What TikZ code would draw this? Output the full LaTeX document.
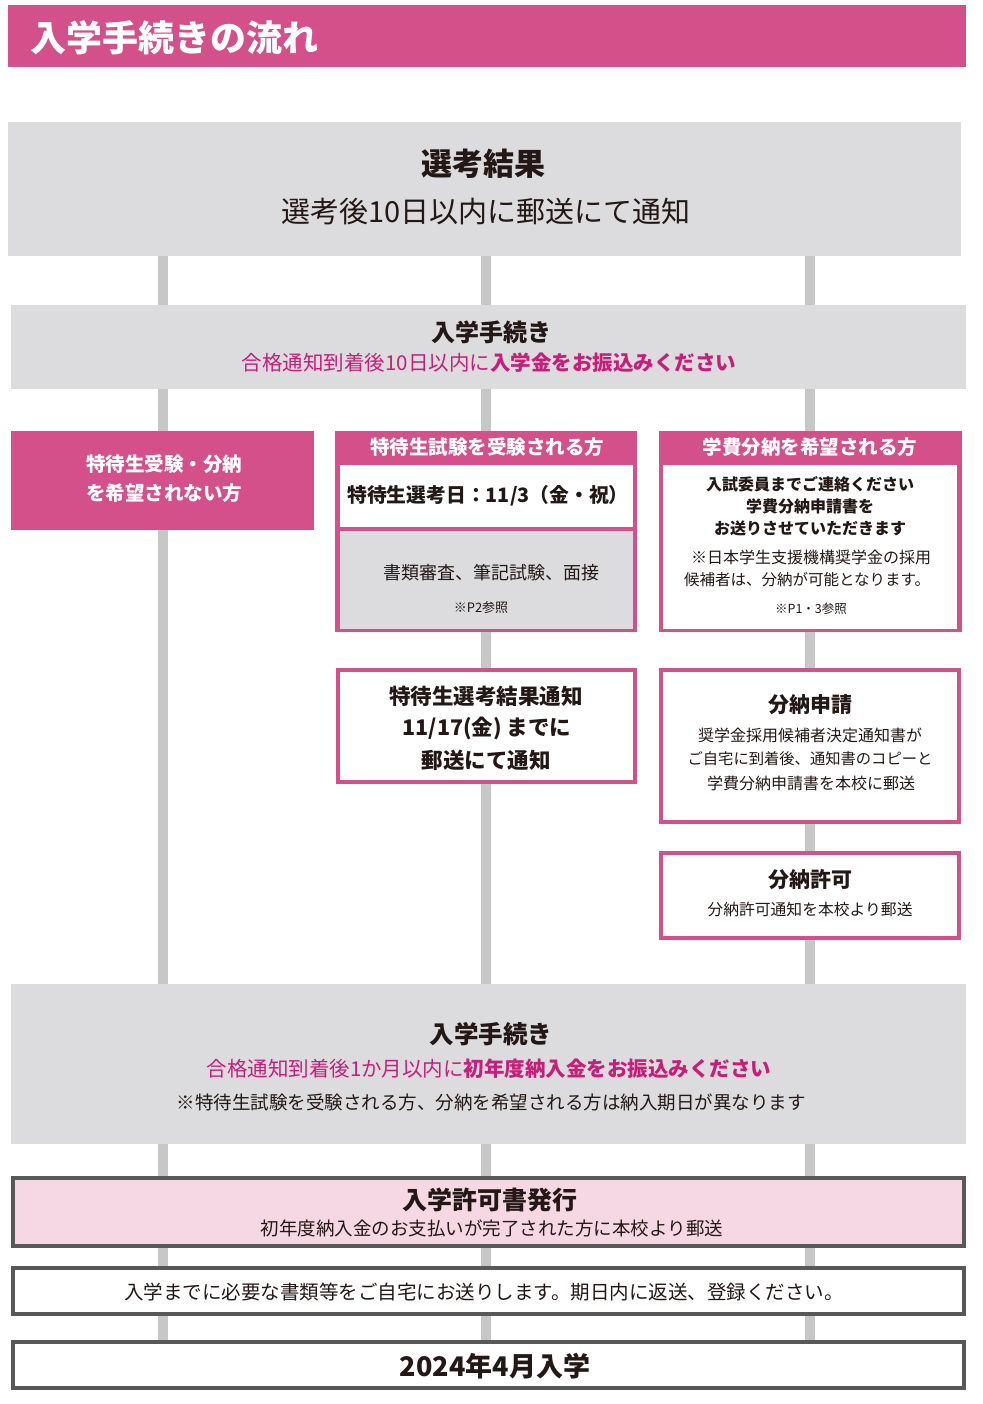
\documentclass[tikz,border=0pt]{standalone}
\usepackage{fontspec}
\setmainfont{Noto Sans CJK JP}[BoldFont={Noto Sans CJK JP Black}]
\newcommand\myfs[1]{\fontsize{#1}{#1}\selectfont}
\definecolor{pinkmain}{RGB}{212,80,138}
\definecolor{grayfill}{RGB}{220,220,222}
\definecolor{linegray}{RGB}{199,199,199}
\definecolor{magtext}{RGB}{200,30,122}
\definecolor{lightpink}{RGB}{246,216,228}
\definecolor{darkborder}{RGB}{88,88,88}
\definecolor{ink}{RGB}{35,24,21}
\begin{document}
\begin{tikzpicture}[x=1pt,y=-1pt,
  txt/.style={inner sep=0pt, anchor=center, text=ink},
  wtxt/.style={inner sep=0pt, anchor=center, text=white},
  area/.style={inner sep=0pt, anchor=north west, draw=none},
  vline/.style={draw=linegray, line width=10pt}]
\useasboundingbox (0,0) rectangle (982,1404);
\fill[white] (0,0) rectangle (982,1404);

% header
\node[area, fill=pinkmain, minimum width=958pt, minimum height=62pt] (hdr) at (8,5) {};
\node[wtxt, anchor=west] (title) at (30,38) {\myfs{36}\bfseries 入学手続きの流れ};

% vertical lines
\coordinate (la1) at (163,256); \coordinate (la2) at (163,1340);
\coordinate (lb1) at (486,256); \coordinate (lb2) at (486,1340);
\coordinate (lc1) at (810,256); \coordinate (lc2) at (810,1340);
\draw[vline] (la1) -- (la2);
\draw[vline] (lb1) -- (lb2);
\draw[vline] (lc1) -- (lc2);

% box 1
\node[area, fill=grayfill, minimum width=953pt, minimum height=134pt] (b1) at (8,122) {};
\node[txt] (b1t) at (483,164) {\myfs{31}\bfseries 選考結果};
\node[txt] (b1s) at (486,212) {\myfs{29}選考後10日以内に郵送にて通知};

% box 2
\node[area, fill=grayfill, minimum width=955pt, minimum height=84pt] (b2) at (11,305) {};
\node[txt] (b2t) at (491,332) {\myfs{24}\bfseries 入学手続き};
\node[txt, text=magtext] (b2s) at (489,363) {\myfs{20.5}合格通知到着後10日以内に\textbf{入学金をお振込みください}};

% left pink box
\node[area, fill=pinkmain, minimum width=303pt, minimum height=99pt] (lp) at (11,431) {};
\node[wtxt] (lp1) at (164,464) {\myfs{19.5}\bfseries 特待生受験・分納};
\node[wtxt] (lp2) at (164,493) {\myfs{19.5}\bfseries を希望されない方};

% middle group
\node[area, fill=pinkmain, minimum width=302pt, minimum height=201pt] (mg) at (335,431) {};
\node[area, fill=white, minimum width=293pt, minimum height=62pt] (mgw) at (340,465) {};
\node[area, fill=grayfill, minimum width=293pt, minimum height=98pt] (mgg) at (340,531) {};
\node[wtxt] (mgh) at (487,447) {\myfs{19.5}\bfseries 特待生試験を受験される方};
\node[txt] (mgd) at (488,496) {\myfs{19.8}\bfseries 特待生選考日：11/3（金・祝）};
\node[txt] (mgs1) at (491,573) {\myfs{18}書類審査、筆記試験、面接};
\node[txt] (mgs2) at (481,608) {\myfs{13}※P2参照};

% right group
\node[area, fill=pinkmain, minimum width=303pt, minimum height=201pt] (rg) at (659,431) {};
\node[area, fill=white, minimum width=294pt, minimum height=164pt] (rgw) at (663,465) {};
\node[wtxt] (rgh) at (810,447) {\myfs{19.5}\bfseries 学費分納を希望される方};
\node[txt] (rg1) at (810,484) {\myfs{16}\bfseries 入試委員までご連絡ください};
\node[txt] (rg2) at (810,506) {\myfs{16}\bfseries 学費分納申請書を};
\node[txt] (rg3) at (810,528) {\myfs{16}\bfseries お送りさせていただきます};
\node[txt] (rg4) at (811,557) {\myfs{16}※日本学生支援機構奨学金の採用};
\node[txt] (rg5) at (807,580) {\myfs{15.5}候補者は、分納が可能となります。};
\node[txt] (rg6) at (811,609) {\myfs{12.5}※P1・3参照};

% middle box 2
\draw[pinkmain, line width=4.5pt, fill=white] (338,670) rectangle (635,782);
\node[txt] (mb2a) at (486,696) {\myfs{21.5}\bfseries 特待生選考結果通知};
\node[txt] (mb2b) at (487,728) {\myfs{21.5}\bfseries 11/17(金) までに};
\node[txt] (mb2c) at (486,760) {\myfs{21.5}\bfseries 郵送にて通知};

% right box 2
\draw[pinkmain, line width=4.5pt, fill=white] (661,670) rectangle (959,822);
\node[txt] (rb2a) at (810,705) {\myfs{21}\bfseries 分納申請};
\node[txt] (rb2b) at (810,735) {\myfs{16}奨学金採用候補者決定通知書が};
\node[txt] (rb2c) at (810,759) {\myfs{15.3}ご自宅に到着後、通知書のコピーと};
\node[txt] (rb2d) at (811,783) {\myfs{16}学費分納申請書を本校に郵送};

% right box 3
\draw[pinkmain, line width=4.5pt, fill=white] (661,853) rectangle (959,938);
\node[txt] (rb3a) at (810,880) {\myfs{21}\bfseries 分納許可};
\node[txt] (rb3b) at (810,910) {\myfs{15.8}分納許可通知を本校より郵送};

% box 3 gray
\node[area, fill=grayfill, minimum width=955pt, minimum height=160pt] (b3) at (11,984) {};
\node[txt] (b3t) at (491,1034) {\myfs{24.5}\bfseries 入学手続き};
\node[txt, text=magtext] (b3s) at (489,1069) {\myfs{20.5}合格通知到着後1か月以内に\textbf{初年度納入金をお振込みください}};
\node[txt] (b3n) at (491,1102) {\myfs{18.5}※特待生試験を受験される方、分納を希望される方は納入期日が異なります};

% pink box
\draw[darkborder, line width=3.5pt, fill=lightpink] (13,1178) rectangle (964,1246);
\node[txt] (pbt) at (490,1200) {\myfs{25}\bfseries 入学許可書発行};
\node[txt] (pbs) at (492,1228) {\myfs{18.5}初年度納入金のお支払いが完了された方に本校より郵送};

% white box
\draw[darkborder, line width=3.5pt, fill=white] (13,1268) rectangle (964,1314);
\node[txt] (wbt) at (484,1292) {\myfs{19.5}入学までに必要な書類等をご自宅にお送りします。期日内に返送、登録ください。};

% final box
\draw[darkborder, line width=3.5pt, fill=white] (13,1342) rectangle (964,1388);
\node[txt] (fbt) at (495,1366) {\myfs{27}\bfseries 2024年4月入学};
\end{tikzpicture}
\end{document}
